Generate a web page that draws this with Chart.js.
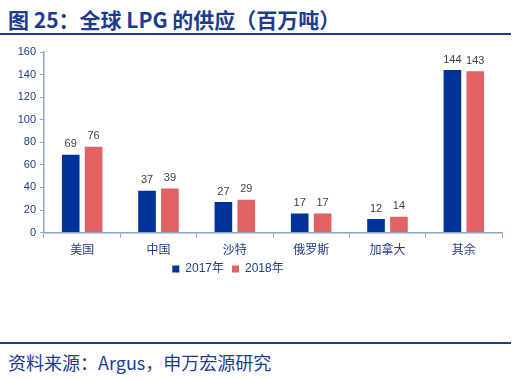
<!DOCTYPE html>
<html><head><meta charset="utf-8">
<script src="https://cdn.jsdelivr.net/npm/chart.js@4"></script>
<style>
html,body{margin:0;padding:0;background:#fff;width:514px;height:380px;overflow:hidden;}
#title{position:absolute;left:8px;top:5px;font:bold 21px "Noto Sans CJK SC","Liberation Sans",sans-serif;color:#1b3c8f;white-space:nowrap;line-height:28px;}
#l1{position:absolute;left:0;top:33px;width:511px;height:2px;background:#1b3c8f;}
#l2{position:absolute;left:0;top:342px;width:511px;height:2px;background:#1b3c8f;}
#foot{position:absolute;left:8px;top:349px;font:18px "Noto Sans CJK SC","Liberation Sans",sans-serif;color:#1b3c8f;white-space:nowrap;line-height:26px;}
#wrap{position:absolute;left:0;top:0;width:514px;height:295px;}
</style></head><body>
<div id="title">图 25：全球 LPG 的供应（百万吨）</div>
<div id="l1"></div>
<div id="wrap"><canvas id="c"></canvas></div>
<div id="l2"></div>
<div id="foot">资料来源：Argus，申万宏源研究</div>
<script>
const categories = ["美国","中国","沙特","俄罗斯","加拿大","其余"];
const series2017 = [69,37,27,17,12,144];
const series2018 = [76,39,29,17,14,143];
const seriesNames = ["2017年","2018年"];
const yTicks = [0,20,40,60,80,100,120,140,160];

const axisColor = "#8ea4cf";
const labelColor = "#1f3b8c";

const valueLabels = {
  id:"valueLabels",
  afterDatasetsDraw(chart){
    const ctx = chart.ctx;
    ctx.save();
    ctx.font = '11px "Liberation Sans", Arial, sans-serif';
    ctx.fillStyle = "#404040";
    ctx.textAlign = "center";
    ctx.textBaseline = "bottom";
    chart.data.datasets.forEach((ds,i)=>{
      const meta = chart.getDatasetMeta(i);
      meta.data.forEach((bar,j)=>{
        ctx.fillText(String(ds.data[j]), bar.x, bar.y - 5);
      });
    });
    ctx.restore();
  }
};

const legendShift = {
  id:"legendShift",
  afterLayout(chart){
    if(chart.legend){ chart.legend.left -= 23; chart.legend.right -= 23; }
  }
};

new Chart(document.getElementById("c"),{
  type:"bar",
  data:{
    labels:categories,
    datasets:[
      {label:seriesNames[0],data:series2017,backgroundColor:"#003399",categoryPercentage:0.6,barPercentage:0.77},
      {label:seriesNames[1],data:series2018,backgroundColor:"#e26262",categoryPercentage:0.6,barPercentage:0.77}
    ]
  },
  options:{
    responsive:true,maintainAspectRatio:false,animation:false,
    devicePixelRatio:1,
    layout:{padding:{left:0,right:12,top:52,bottom:10}},
    plugins:{
      legend:{position:"bottom",
        labels:{boxWidth:7,boxHeight:7,padding:8,color:labelColor,
          font:{family:'"Liberation Sans", "Noto Sans CJK SC", sans-serif',size:12}}},
      tooltip:{enabled:false}
    },
    scales:{
      x:{
        afterFit(s){s.height = s.height - 7;},
        grid:{offset:true,drawOnChartArea:false,tickLength:5,color:axisColor},
        border:{color:axisColor,width:1.5},
        ticks:{color:labelColor,padding:5,font:{family:'"Noto Sans CJK SC", sans-serif',size:12}}
      },
      y:{
        min:0,max:160,
        afterFit(s){s.width=44;},
        afterBuildTicks(s){s.ticks=yTicks.map(v=>({value:v}));},
        grid:{drawOnChartArea:false,tickLength:4,color:axisColor},
        border:{color:axisColor,width:1.5},
        ticks:{color:labelColor,padding:4,font:{family:'"Liberation Sans", Arial, sans-serif',size:11}}
      }
    }
  },
  plugins:[valueLabels, legendShift]
});
</script>
</body></html>
